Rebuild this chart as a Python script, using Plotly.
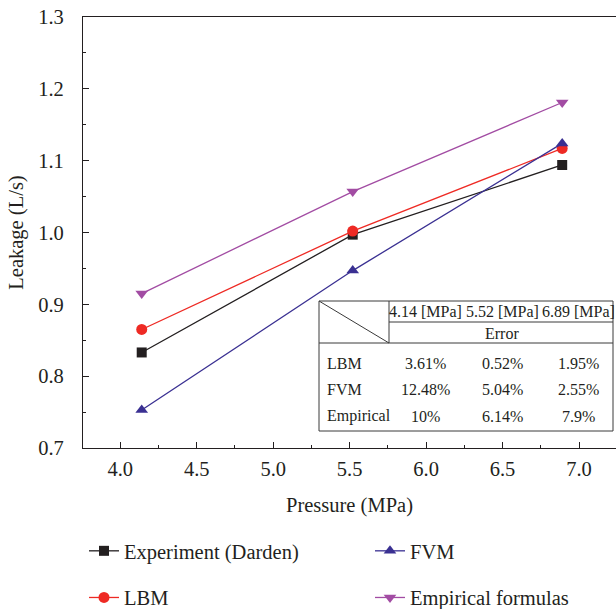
import plotly.graph_objects as go

# Leakage vs. pressure for the four methods
pressure = [4.14, 5.52, 6.89]
experiment = [0.833, 0.997, 1.094]
lbm = [0.865, 1.002, 1.117]
fvm = [0.753, 0.947, 1.124]
empirical = [0.915, 1.057, 1.181]

# Error table contents
table_columns = ["4.14 [MPa]", "5.52 [MPa]", "6.89 [MPa]"]
table_subheader = "Error"
table_rows = ["LBM", "FVM", "Empirical"]
table_errors = [
    ["3.61%", "0.52%", "1.95%"],
    ["12.48%", "5.04%", "2.55%"],
    ["10%", "6.14%", "7.9%"],
]

W, H = 616, 609
L, R, T, B = 83, 616, 17, 448
FONT = "Liberation Serif, Times New Roman, DejaVu Serif, serif"
INK = "#231f20"


def px(x):
    return (x - L) / (R - L)


def py(y):
    return (B - y) / (B - T)


series = [
    ("Experiment (Darden)", experiment, "#231f20", "square", 10, "legend", "a"),
    ("LBM", lbm, "#ee2a24", "circle", 11, "legend", "b"),
    ("FVM", fvm, "#3a3092", "triangle-up", 11, "legend2", "c"),
    ("Empirical formulas", empirical, "#a24ca3", "triangle-down", 11, "legend2", "d"),
]

fig = go.Figure()
for name, vals, color, sym, size, leg, grp in series:
    fig.add_trace(go.Scatter(
        x=pressure, y=vals, name=name, mode="lines+markers",
        line=dict(color=color, width=1.3),
        marker=dict(symbol=sym, size=size, color=color, line=dict(width=0)),
        legend=leg, legendgroup=grp,
    ))

axis_common = dict(
    showline=True, linecolor=INK, linewidth=1.3, showgrid=False, zeroline=False,
    ticks="inside", ticklen=6, tickwidth=1.2, tickcolor=INK,
    tickfont=dict(family=FONT, size=20.5, color=INK), tickformat=".1f",
)

fig.update_xaxes(
    range=[3.756, 3.756 + (R - L) / 152.9], dtick=0.5, tick0=4.0, mirror=True,
    minor=dict(ticks="inside", ticklen=3, tickwidth=1.2, tickcolor=INK, dtick=0.25, tick0=4.0),
    ticklabelstandoff=2,
    title=dict(text="Pressure (MPa)", font=dict(family=FONT, size=20.5, color=INK), standoff=18),
    **axis_common,
)
fig.update_yaxes(
    range=[0.7, 1.3], dtick=0.1, tick0=0.7,
    minor=dict(ticks="inside", ticklen=3, tickwidth=1.2, tickcolor=INK, dtick=0.05, tick0=0.7),
    ticklabelstandoff=14,
    title=dict(text="Leakage (L/s)", font=dict(family=FONT, size=20.5, color=INK), standoff=8),
    **axis_common,
)

# Error table drawn as shapes and text
tx0, tx1, ty0, ty1 = 319, 613, 301, 431
split_x, head_y, sub_y = 389, 322, 343
lc = dict(color="#3a3a3a", width=1)
shapes = [
    dict(type="rect", xref="paper", yref="paper", x0=px(tx0), x1=px(tx1), y0=py(ty1), y1=py(ty0),
         line=lc, fillcolor="white", layer="above"),
    dict(type="line", xref="paper", yref="paper", x0=px(split_x), x1=px(tx1), y0=py(head_y), y1=py(head_y), line=lc),
    dict(type="line", xref="paper", yref="paper", x0=px(tx0), x1=px(tx1), y0=py(sub_y), y1=py(sub_y), line=lc),
    dict(type="line", xref="paper", yref="paper", x0=px(split_x), x1=px(split_x), y0=py(sub_y), y1=py(ty0), line=lc),
    dict(type="line", xref="paper", yref="paper", x0=px(tx0), x1=px(split_x), y0=py(ty0), y1=py(sub_y), line=lc),
]
fig.update_layout(shapes=shapes)

tfont = dict(family=FONT, size=16, color=INK)
col_x = [425, 502, 578]
row_y = [363, 389.5, 416]
ann = []
for cx, txt in zip(col_x, table_columns):
    ann.append(dict(x=px(cx), y=py(311.5), text=txt))
ann.append(dict(x=px(502), y=py(333), text=table_subheader))
for ry, rname, errs in zip(row_y, table_rows, table_errors):
    ann.append(dict(x=px(325), y=py(ry), text=rname, xanchor="left"))
    for cx, e in zip(col_x, errs):
        ann.append(dict(x=px(cx), y=py(ry), text=e))
for a in ann:
    a.setdefault("xanchor", "center")
    a.update(xref="paper", yref="paper", yanchor="middle", showarrow=False, font=tfont)
fig.update_layout(annotations=ann)

leg_common = dict(
    orientation="v", xanchor="left", yanchor="top", bgcolor="rgba(0,0,0,0)",
    font=dict(family=FONT, size=20.5, color=INK), tracegroupgap=17, itemwidth=30,
)
fig.update_layout(
    legend=dict(x=px(84), y=py(531), **leg_common),
    legend2=dict(x=px(370), y=py(531), **leg_common),
)

fig.update_layout(
    width=W, height=H, margin=dict(l=L, r=W - R, t=T, b=H - B, autoexpand=False),
    paper_bgcolor="white", plot_bgcolor="white",
    showlegend=True,
)

fig.write_html("out.html")
